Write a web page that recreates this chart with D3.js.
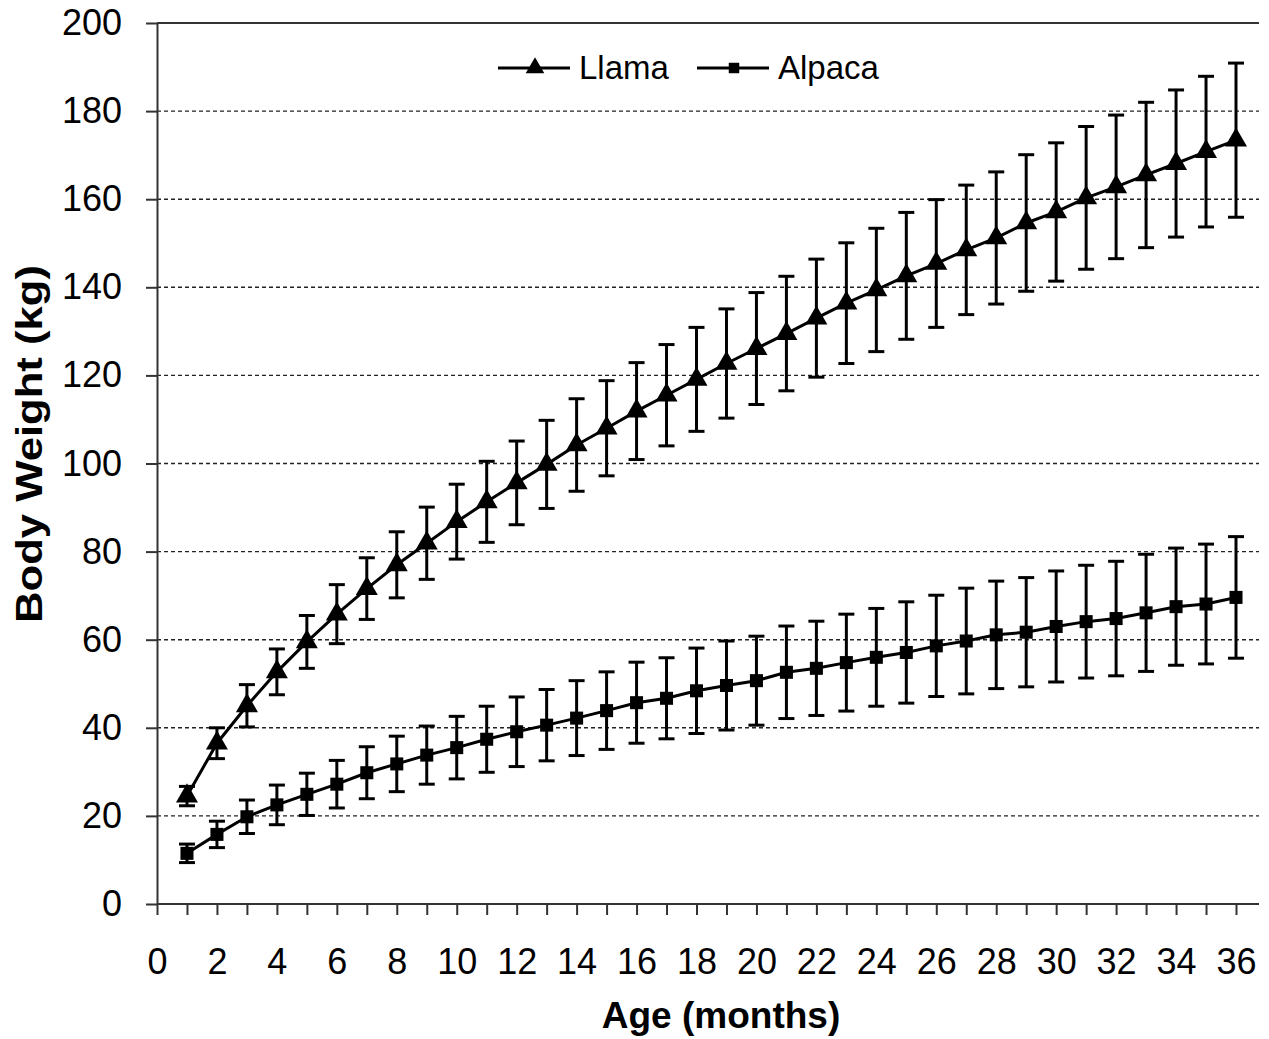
<!DOCTYPE html>
<html>
<head>
<meta charset="utf-8">
<script src="https://cdn.jsdelivr.net/npm/d3@7"></script>
<style>
  body { margin: 0; background: #fff; }
  svg text { font-family: "Liberation Sans", Arial, sans-serif; fill: #000; }
  .grid { stroke: #222; stroke-width: 1.4; stroke-dasharray: 4 3; }
  .axis path, .axis line { stroke: #333; stroke-width: 2; }
  .tick text { font-size: 36px; }
  .series { fill: none; stroke: #000; stroke-width: 3; }
  .errbar { stroke: #000; stroke-width: 3; }
</style>
</head>
<body>
<div id="chart"></div>
<script>
// months of age
var months = d3.range(1, 37);

// llama body weight, mean and SD (kg)
var llamaMean = [24.5, 36.5, 45, 52.7, 59.5, 65.8, 71.6, 77, 81.9, 86.8, 91.3, 95.6,
    99.8, 104.2, 108, 111.9, 115.5, 119.1, 122.7, 126.1, 129.5, 133, 136.4, 139.4,
    142.6, 145.4, 148.5, 151.2, 154.6, 157.1, 160.3, 162.8, 165.5, 168.1, 170.8, 173.4];
var llamaSd = [2.2, 3.5, 4.8, 5.2, 6, 6.7, 7, 7.5, 8.2, 8.5, 9.2, 9.5,
    10, 10.5, 10.8, 11, 11.5, 11.8, 12.4, 12.7, 13, 13.4, 13.7, 14,
    14.4, 14.5, 14.7, 15, 15.5, 15.7, 16.2, 16.3, 16.5, 16.7, 17.1, 17.5];

// alpaca body weight, mean and SD (kg)
var alpacaMean = [11.5, 15.8, 19.8, 22.5, 24.9, 27.2, 29.8, 31.8, 33.8, 35.5, 37.4, 39.1,
    40.6, 42.2, 43.9, 45.7, 46.7, 48.4, 49.6, 50.7, 52.6, 53.5, 54.8, 56,
    57.1, 58.6, 59.7, 61.1, 61.7, 63, 64.1, 64.8, 66.1, 67.5, 68.1, 69.6];
var alpacaSd = [2.1, 3, 3.8, 4.5, 4.8, 5.4, 5.9, 6.3, 6.6, 7.1, 7.5, 7.9,
    8.1, 8.5, 8.8, 9.2, 9.2, 9.7, 10.1, 10.1, 10.5, 10.7, 11, 11.1,
    11.5, 11.5, 12, 12.2, 12.4, 12.6, 12.8, 13, 13.3, 13.3, 13.6, 13.8];

var yTicks = [0, 20, 40, 60, 80, 100, 120, 140, 160, 180, 200];
var xTicks = d3.range(0, 37);

var width = 1269, height = 1039;
var margin = {top: 23, right: 10, bottom: 135, left: 157};
var plotRight = width - margin.right;

var svg = d3.select("#chart").append("svg")
    .attr("width", width)
    .attr("height", height);

var x = d3.scaleLinear().domain([0, 36]).range([margin.left, 1236]);
var y = d3.scaleLinear().domain([0, 200]).range([height - margin.bottom, margin.top]);

// gridlines
svg.selectAll("line.grid")
    .data(yTicks.filter(function(d) { return d > 0 && d < 200; }))
    .enter().append("line")
    .attr("class", "grid")
    .attr("x1", margin.left).attr("x2", plotRight)
    .attr("y1", function(d) { return y(d); })
    .attr("y2", function(d) { return y(d); });

// top border at 200
svg.append("line")
    .attr("x1", margin.left).attr("x2", plotRight)
    .attr("y1", y(200)).attr("y2", y(200))
    .attr("stroke", "#333").attr("stroke-width", 2);

// axes
var yAxis = svg.append("g")
    .attr("class", "axis")
    .attr("transform", "translate(" + margin.left + ",0)")
    .call(d3.axisLeft(y).tickValues(yTicks).tickSize(11).tickSizeOuter(0).tickPadding(24));

var xAxis = svg.append("g")
    .attr("class", "axis")
    .attr("transform", "translate(0," + y(0) + ")")
    .call(d3.axisBottom(x).tickValues(xTicks).tickSize(11).tickSizeOuter(0).tickPadding(33)
        .tickFormat(function(d) { return d % 2 === 0 ? d : ""; }));

xAxis.select(".domain").remove();
xAxis.append("line")
    .attr("x1", margin.left).attr("x2", plotRight)
    .attr("stroke", "#333").attr("stroke-width", 2);

// axis titles
svg.append("text")
    .attr("x", 721)
    .attr("y", 1028)
    .attr("text-anchor", "middle")
    .attr("font-size", 37)
    .attr("font-weight", "bold")
    .text("Age (months)");

svg.append("text")
    .attr("transform", "translate(42,444) rotate(-90)")
    .attr("text-anchor", "middle")
    .attr("font-size", 37)
    .attr("font-weight", "bold")
    .attr("textLength", 358)
    .attr("lengthAdjust", "spacingAndGlyphs")
    .text("Body Weight (kg)");

// series
var seriesList = [
    {name: "Llama", mean: llamaMean, sd: llamaSd, symbol: d3.symbolTriangle, size: 210},
    {name: "Alpaca", mean: alpacaMean, sd: alpacaSd, symbol: d3.symbolSquare, size: 170}
];

var line = d3.line()
    .x(function(d) { return x(d.m); })
    .y(function(d) { return y(d.v); });

seriesList.forEach(function(s) {
    var pts = months.map(function(m, i) { return {m: m, v: s.mean[i], sd: s.sd[i]}; });
    var g = svg.append("g");

    var eb = g.selectAll("g.eb").data(pts).enter().append("g").attr("class", "eb");
    eb.append("line").attr("class", "errbar")
        .attr("x1", function(d) { return x(d.m); })
        .attr("x2", function(d) { return x(d.m); })
        .attr("y1", function(d) { return y(d.v + d.sd); })
        .attr("y2", function(d) { return y(d.v - d.sd); });
    [1, -1].forEach(function(sign) {
        eb.append("line").attr("class", "errbar")
            .attr("x1", function(d) { return x(d.m) - 8; })
            .attr("x2", function(d) { return x(d.m) + 8; })
            .attr("y1", function(d) { return y(d.v + sign * d.sd); })
            .attr("y2", function(d) { return y(d.v + sign * d.sd); });
    });

    g.append("path").datum(pts).attr("class", "series").attr("d", line);

    g.selectAll("path.pt").data(pts).enter().append("path")
        .attr("class", "pt")
        .attr("d", d3.symbol().type(s.symbol).size(s.size))
        .attr("transform", function(d) { return "translate(" + x(d.m) + "," + y(d.v) + ")"; })
        .attr("fill", "#000");
});

// legend
var legendItems = [
    {name: "Llama", symbol: d3.symbolTriangle, size: 150, x0: 498},
    {name: "Alpaca", symbol: d3.symbolSquare, size: 110, x0: 697}
];
var legend = svg.append("g").attr("transform", "translate(0,68)");
legendItems.forEach(function(it) {
    legend.append("line")
        .attr("x1", it.x0).attr("x2", it.x0 + 72)
        .attr("stroke", "#000").attr("stroke-width", 3);
    legend.append("path")
        .attr("d", d3.symbol().type(it.symbol).size(it.size))
        .attr("transform", "translate(" + (it.x0 + 37) + ",0)")
        .attr("fill", "#000");
    legend.append("text")
        .attr("x", it.x0 + 81)
        .attr("y", 11)
        .attr("font-size", 33)
        .text(it.name);
});
</script>
</body>
</html>
